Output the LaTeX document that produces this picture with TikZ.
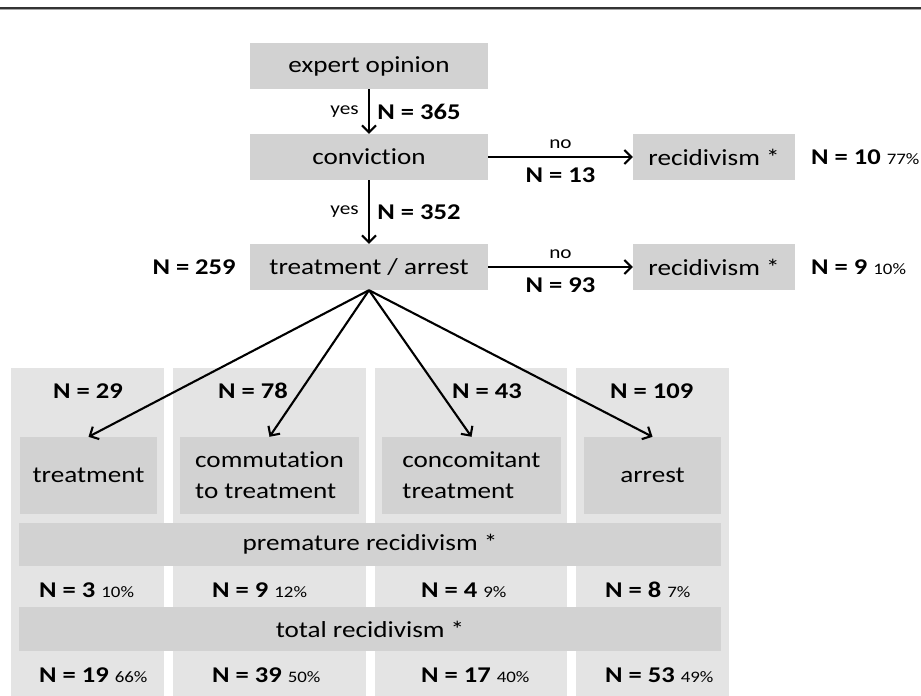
\documentclass[tikz,border=0pt]{standalone}
\usepackage{fontspec}
\setmainfont{Carlito}[FakeStretch=1.18, Ligatures=NoCommon]
\usepackage{tikz}
\usetikzlibrary{positioning}
\usetikzlibrary{arrows.meta}
\definecolor{boxgray}{HTML}{D2D2D2}
\definecolor{colgray}{HTML}{E4E4E4}
\tikzset{x=1pt, y=-1pt,
every box/.style={ % grey boxes of the flow chart
fill=boxgray, inner sep=0pt, align=center,
font=\fontsize{23}{31}\selectfont},
column/.style={fill=colgray, inner sep=0pt, minimum width=#1, minimum height=328},
count/.style={font=\fontsize{22.5}{26}\selectfont\bfseries}, % N = ... labels
answer/.style={font=\fontsize{18}{20}\selectfont}, % yes / no
flow/.style={draw, line width=2.1pt, -{Straight Barb[length=7pt,width=14pt,line width=2.1pt]}}}
\newcommand{\pct}[1]{{\fontsize{16}{18}\mdseries\selectfont #1\%}}

\begin{document}
\begin{tikzpicture}
				\useasboundingbox (0,0) rectangle (921,696);
				\draw[line width=2pt, black!80] (0,7.5) -- (921,7.5);
				\draw[line width=1pt, black!35] (0,9.5) -- (921,9.5);

				% columns at the bottom
				\node[column=153] (col1) at (87.5,532) {};
				\node[column=193] (col2) at (269.5,532) {};
				\node[column=192] (col3) at (471,532) {};
				\node[column=153] (col4) at (652.5,532) {};

				% upper chain
				\node[every box, minimum width=238, minimum height=46] (expert) at (369,66) {expert opinion};
				\node[every box, minimum width=238, minimum height=46] (conv) at (369,157) {conviction};
				\node[every box, minimum width=238, minimum height=46] (ta) at (369,267) {treatment / arrest};
				\node[every box, minimum width=162, minimum height=46] (rec1) at (714,157) {recidivism *};
				\node[every box, minimum width=162, minimum height=46] (rec2) at (714,267) {recidivism *};

				\draw[flow] (expert) -- node[answer, left=6pt] {yes} node[count, right=4pt] {N = 365} (conv);
				\draw[flow] (conv) -- node[answer, left=6pt] {yes} node[count, right=4pt] {N = 352} (ta);
				\draw[flow] (conv) -- node[answer, above=4pt] {no} node[count, below=6pt] {N = 13} (rec1);
				\draw[flow] (ta) -- node[answer, above=4pt] {no} node[count, below=6pt] {N = 93} (rec2);

				\node[count, anchor=west, inner sep=0pt] (n10) at (811,157) {N = 10 \pct{77}};
				\node[count, anchor=west, inner sep=0pt] (n9) at (811,267) {N = 9 \pct{10}};
				\node[count, left=14pt of ta, inner sep=0pt] (n259) {N = 259};

				% four branches
				\node[every box, minimum width=137, minimum height=77] (treat) at (88.5,475.5) {treatment};
				\node[every box, minimum width=179, minimum height=77, align=left] (comm) at (269.5,475.5) {commutation\\to treatment};
				\node[every box, minimum width=179, minimum height=77, align=left] (conc) at (471.5,475.5) {concomitant\\treatment};
				\node[every box, minimum width=137, minimum height=77] (arr) at (652.5,475.5) {arrest};

				\node[count, anchor=west, inner sep=0pt] (n29) at (53,391) {N = 29};
				\node[count, anchor=west, inner sep=0pt] (n78) at (218,391) {N = 78};
				\node[count, anchor=west, inner sep=0pt] (n43) at (452,391) {N = 43};
				\node[count, anchor=west, inner sep=0pt] (n109) at (610,391) {N = 109};

				\draw[flow] (ta.south) -- (treat.north);
				\draw[flow] (ta.south) -- (comm.north);
				\draw[flow] (ta.south) -- (conc.north);
				\draw[flow] (ta.south) -- (arr.north);

				\node[every box, minimum width=702, minimum height=43] (prem) at (370,544.5) {premature recidivism *};
				\node[every box, minimum width=702, minimum height=44] (total) at (370,629) {total recidivism *};

				\node[count, anchor=west, inner sep=0pt] (p1) at (39,590) {N = 3 \pct{10}};
				\node[count, anchor=west, inner sep=0pt] (p2) at (212,590) {N = 9 \pct{12}};
				\node[count, anchor=west, inner sep=0pt] (p3) at (421,590) {N = 4 \pct{9}};
				\node[count, anchor=west, inner sep=0pt] (p4) at (605,590) {N = 8 \pct{7}};

				\node[count, anchor=west, inner sep=0pt] (t1) at (39,675) {N = 19 \pct{66}};
				\node[count, anchor=west, inner sep=0pt] (t2) at (212,675) {N = 39 \pct{50}};
				\node[count, anchor=west, inner sep=0pt] (t3) at (421,675) {N = 17 \pct{40}};
				\node[count, anchor=west, inner sep=0pt] (t4) at (605,675) {N = 53 \pct{49}};
\end{tikzpicture}
\end{document}
